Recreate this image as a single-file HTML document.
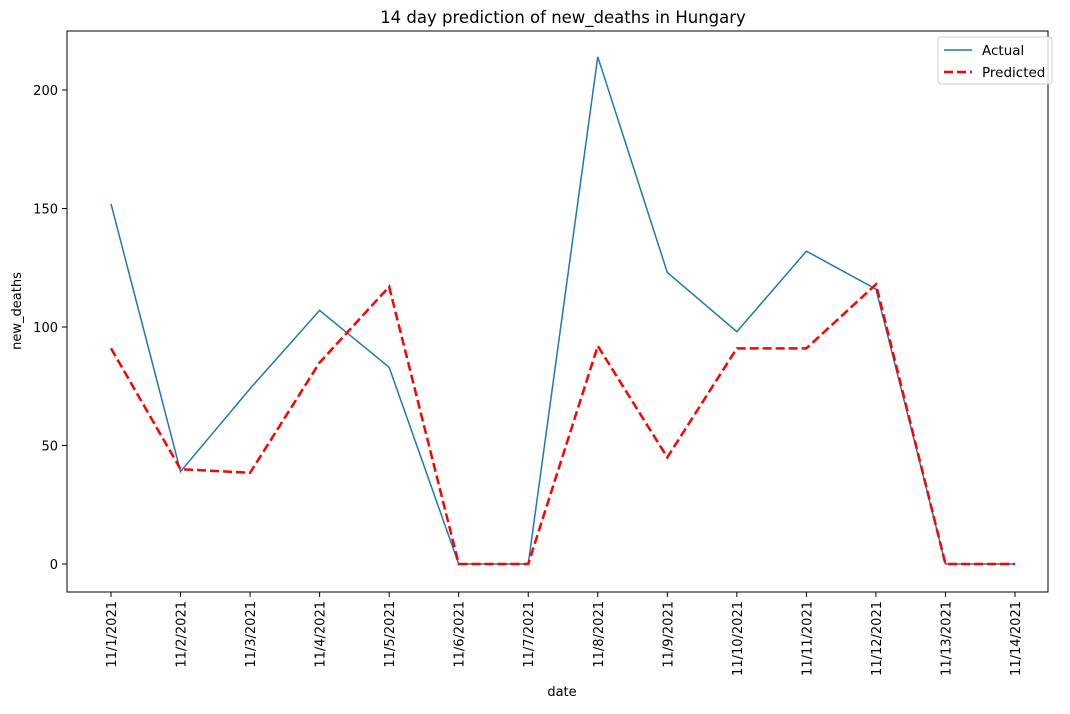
<!DOCTYPE html>
<html><head><meta charset="utf-8"><style>
body{margin:0;background:#fff;font-family:"Liberation Sans","DejaVu Sans",sans-serif;}
svg text{font-family:"DejaVu Sans","Liberation Sans",sans-serif;font-size:13px;fill:#000;}
</style></head><body>
<svg id="chart" width="1070" height="709" xmlns="http://www.w3.org/2000/svg">
<rect width="1070" height="709" fill="#fff"/>
<text x="563" y="23" text-anchor="middle" style="font-size:16.5px">14 day prediction of new_deaths in Hungary</text>
<g id="grid"></g>
<g id="series"></g>
<rect x="67" y="31" width="981" height="561" fill="none" stroke="#000" stroke-width="1"/>
<text x="562" y="696" text-anchor="middle">date</text>
<text transform="translate(21,311) rotate(-90)" text-anchor="middle">new_deaths</text>
<g>
<rect x="938" y="37" width="114" height="47" fill="#fff" fill-opacity="0.8" stroke="#ccc" rx="3"/>
<line x1="944" y1="50" x2="972" y2="50" stroke="#1f77b4" stroke-width="1.5"/>
<text x="982" y="55" style="font-size:13.5px">Actual</text>
<line x1="944" y1="72" x2="972" y2="72" stroke="red" stroke-width="2.5" stroke-dasharray="9,4"/>
<text x="982" y="77" style="font-size:13.5px">Predicted</text>
</g>
</svg>
<script>
const categories=["11/1/2021","11/2/2021","11/3/2021","11/4/2021","11/5/2021","11/6/2021","11/7/2021","11/8/2021","11/9/2021","11/10/2021","11/11/2021","11/12/2021","11/13/2021","11/14/2021"];
const actual=[152,39,74,107,83,0,0,214,123,98,132,116,0,0];
const predicted=[91,40,38.5,85,117,0,0,92,45,91,91,118,0,0];
const yTicks=[0,50,100,150,200];
const NS="http://www.w3.org/2000/svg";
function xs(i){return 111+i*(1015-111)/(categories.length-1);}
function ys(v){return 564-v*(564-90)/200;}
const g=document.getElementById('grid');
function mk(tag,attrs,parent){const e=document.createElementNS(NS,tag);for(const k in attrs)e.setAttribute(k,attrs[k]);parent.appendChild(e);return e;}
yTicks.forEach(t=>{
  const l=mk('line',{x1:62,x2:67,y1:ys(t),y2:ys(t),stroke:'#000'},g);
  
  
  const tx=mk('text',{x:58,y:ys(t)+5,'text-anchor':'end'},g);
  
  
  tx.textContent=t;
});
categories.forEach((c,i)=>{
  const l=mk('line',{x1:xs(i),x2:xs(i),y1:592,y2:597,stroke:'#000'},g);
  
  
  const tx=mk('text',{transform:`translate(${xs(i)+5},601) rotate(-90)`,'text-anchor':'end'},g);
  
  
  tx.textContent=c;
});
const s=document.getElementById('series');
const pa=mk('polyline',{points:actual.map((v,i)=>xs(i)+','+ys(v)).join(' '),fill:'none',stroke:'#1f77b4','stroke-width':1.5},s);


const pp=mk('polyline',{points:predicted.map((v,i)=>xs(i)+','+ys(v)).join(' '),fill:'none',stroke:'red','stroke-width':2.5,'stroke-dasharray':'9,4'},s);


</script>
</body></html>
